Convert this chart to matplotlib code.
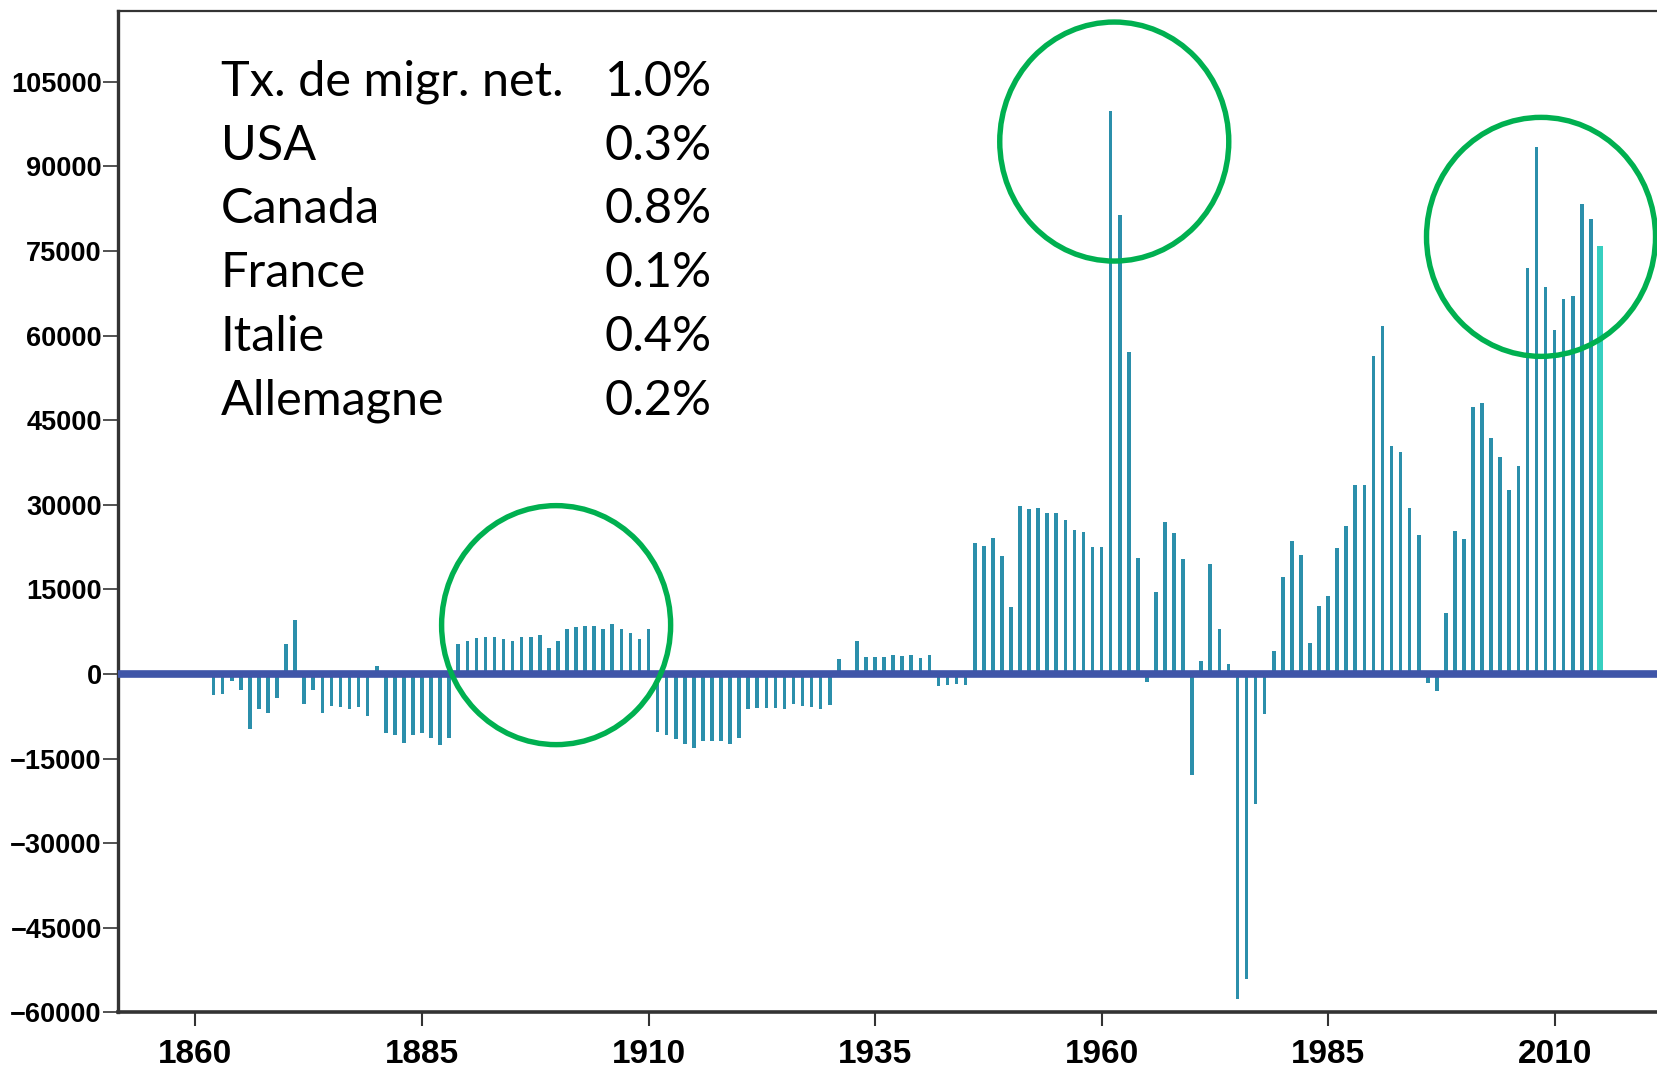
import matplotlib
matplotlib.use("Agg")
import matplotlib.pyplot as plt
from matplotlib.patches import Ellipse
import numpy as np

# net migration per year, 1862-2015
years = np.arange(1862, 2016)
net_migration = [
    -3800, -3500, -1200, -2800, -9800, -6200, -7000, -4200, 5400, 9500,        # 1862-1871
    -5400, -2800, -7000, -5700, -5800, -6200, -5900, -7500, 1500, -10500,      # 1872-1881
    -10900, -12200, -10900, -10400, -11300, -12600, -11300, 5400, 5800, 6300,  # 1882-1891
    6500, 6500, 6200, 5900, 6500, 6500, 6900, 4650, 5900, 8050,                # 1892-1901
    8350, 8450, 8500, 7900, 8900, 8050, 7300, 6200, 8050, -10300,              # 1902-1911
    -10800, -11500, -12350, -13100, -11900, -11800, -11800, -12500, -11400, -6200,  # 1912-1921
    -6050, -6100, -6050, -6200, -5400, -5760, -5880, -6230, -5530, 2700,       # 1922-1931
    0, 5760, 3060, 2940, 3060, 3350, 3230, 3290, 2820, 3400,                   # 1932-1941
    -2060, -1880, -1760, -1880, 23200, 22750, 24050, 21000, 11900, 29700,      # 1942-1951
    29300, 29500, 28600, 28500, 27300, 25600, 25100, 22600, 22500, 99800,      # 1952-1961
    81400, 57000, 20600, -1470, 14500, 26900, 25000, 20300, -17900, 2300,      # 1962-1971
    19550, 7900, 1850, -57700, -54000, -23000, -7060, 4000, 17170, 23640,      # 1972-1981
    21100, 5410, 12050, 13880, 22340, 26280, 33500, 33500, 56450, 61740,       # 1982-1991
    40400, 39300, 29500, 24600, -1650, -2940, 10800, 25300, 23900, 47300,      # 1992-2001
    48100, 41900, 38400, 32600, 36900, 71900, 93500, 68700, 61000, 66500,      # 2002-2011
    67000, 83400, 80700, 75800,                                                # 2012-2015
]

# comparison table shown in the upper left
rate_labels = ["Tx. de migr. net.", "USA", "Canada", "France", "Italie", "Allemagne"]
rate_values = ["1.0%", "0.3%", "0.8%", "0.1%", "0.4%", "0.2%"]

# years highlighted with a green circle: (center year, center value)
highlights = [(1899.8, 8660), (1961.4, 94400), (2008.5, 77500)]

fig = plt.figure(figsize=(16.57, 10.67), dpi=100)
ax = fig.add_axes([0.0715, 0.0512, 0.9285, 0.9385])

bar_color = "#2b8fab"
colors = [bar_color] * (len(years) - 1) + ["#36cfc0"]
widths = [0.4] * (len(years) - 1) + [0.62]
ax.bar(years, net_migration, width=widths, color=colors, linewidth=0, zorder=2)
ax.axhline(0, color="#3f55a8", linewidth=5.5, zorder=3)

ax.set_xlim(1851.5, 2021.3)
ax.set_ylim(-60000, 117550)
ax.set_xticks(np.arange(1860, 2011, 25))
ax.set_yticks(np.arange(-60000, 105001, 15000))

for lab in ax.get_xticklabels() + ax.get_yticklabels():
    lab.set_fontfamily("Liberation Sans")
    lab.set_fontweight("bold")
ax.tick_params(axis="x", labelsize=24, length=10, width=1.5, pad=9, color="#333333")
ax.tick_params(axis="y", labelsize=19.5, length=11, width=1.2, pad=1, color="#333333")

ax.spines["right"].set_visible(False)
ax.spines["left"].set_linewidth(2.4)
ax.spines["bottom"].set_linewidth(2.6)
ax.spines["top"].set_linewidth(1.6)
for s in ["left", "bottom", "top"]:
    ax.spines[s].set_color("#333333")

# rate table
baselines = [95.7, 159.5, 223.3, 287.1, 350.9, 414.7]
for lab, val, b in zip(rate_labels, rate_values, baselines):
    fig.text(220.7 / 1657, 1 - b / 1067, lab, fontsize=35, family="Lato",
             va="baseline", ha="left", color="black")
    fig.text(604.5 / 1657, 1 - b / 1067, val, fontsize=35, family="Lato",
             va="baseline", ha="left", color="black")

# green circles, sized in pixels so they stay round
px_per_year = 9.06
px_per_unit = 84.6 / 15000
for cx, cy in highlights:
    ax.add_patch(Ellipse((cx, cy), width=229 / px_per_year, height=239 / px_per_unit,
                         fill=False, edgecolor="#00b050", linewidth=3.9, zorder=4,
                         clip_on=False))

fig.savefig("out.png", dpi=100)
